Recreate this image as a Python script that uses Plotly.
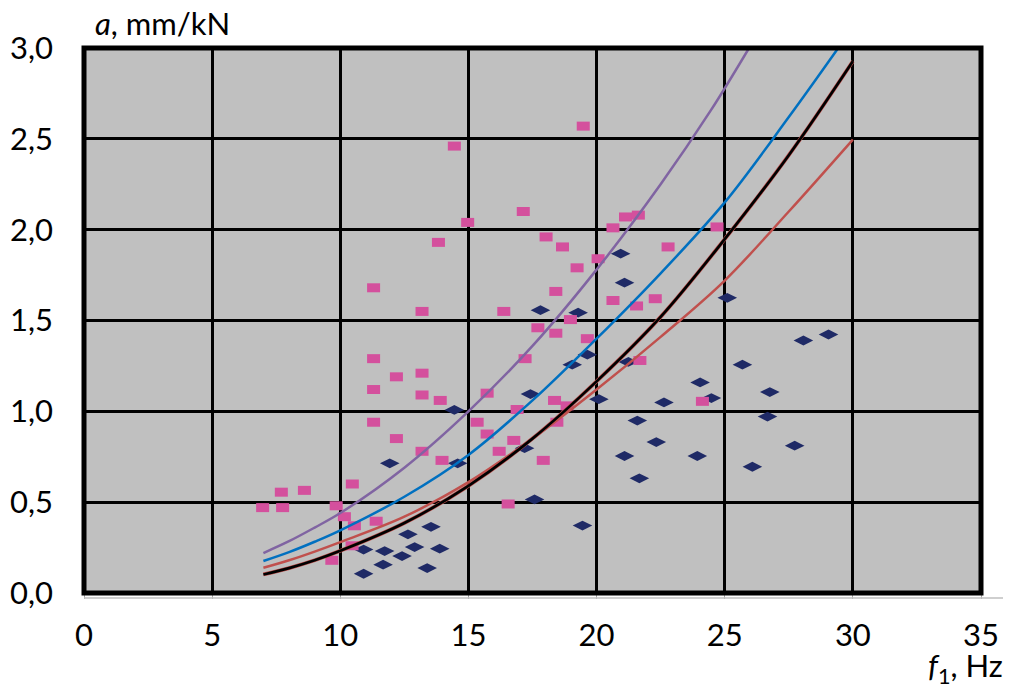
import plotly.graph_objects as go

# --- data ---
blue_x = [14.45, 11.93, 14.58, 13.54, 12.64, 10.91, 11.73, 12.90, 13.88, 12.41, 11.67, 13.39, 10.91,
          19.64, 19.05, 21.24, 24.04, 17.42, 20.09, 22.63, 21.59, 22.33, 17.19, 21.09, 23.93, 21.67,
          17.58, 19.45, 20.94, 21.09, 17.81, 19.28, 25.10, 29.05, 28.07, 25.69, 26.76, 24.48, 26.67,
          27.73, 26.08]
blue_y = [1.008, 0.714, 0.714, 0.364, 0.323, 0.239, 0.231, 0.253, 0.244, 0.203, 0.156, 0.137, 0.106,
          1.312, 1.257, 1.272, 1.159, 1.095, 1.067, 1.049, 0.949, 0.831, 0.797, 0.754, 0.754, 0.631,
          0.515, 0.371, 1.868, 1.708, 1.557, 1.543, 1.625, 1.423, 1.390, 1.257, 1.106, 1.073, 0.971,
          0.811, 0.695]

pink_x = [6.97, 7.70, 7.75, 8.60, 9.84, 9.67, 10.16, 10.47, 10.55, 10.46, 11.40, 11.30, 11.30, 11.30,
          11.30, 12.19, 12.19, 13.19, 13.19, 13.19, 13.19, 13.90, 13.97, 13.83, 14.45, 14.97, 15.34,
          15.73, 15.73, 16.20, 16.38, 16.55, 16.77, 16.90, 17.14, 17.21, 17.71, 17.92, 18.03, 18.36,
          18.41, 18.41, 18.45, 18.67, 18.85, 18.98, 19.24, 19.48, 19.64, 20.06, 20.64, 20.64, 21.13,
          21.56, 21.63, 21.69, 22.29, 22.79, 24.13, 24.70]
pink_y = [0.47, 0.555, 0.47, 0.565, 0.48, 0.18, 0.42, 0.60, 0.37, 0.26, 0.395, 1.68, 1.29, 1.12,
          0.94, 1.19, 0.85, 1.55, 1.21, 1.09, 0.78, 1.06, 0.73, 1.93, 2.46, 2.04, 0.94,
          1.10, 0.875, 0.78, 1.55, 0.49, 0.84, 1.01, 2.10, 1.29, 1.46, 0.73, 1.96, 1.06,
          1.66, 1.43, 0.94, 1.905, 1.03, 1.505, 1.79, 2.57, 1.40, 1.84, 2.01, 1.61, 2.07,
          1.58, 2.08, 1.28, 1.62, 1.905, 1.055, 2.015]

curve_x = [7, 8, 9, 10, 12.5, 15, 17.5, 20, 22.5, 25, 27.5, 30]
black_y = [0.102, 0.137, 0.18, 0.232, 0.385, 0.59, 0.85, 1.165, 1.52, 1.948, 2.41, 2.927]
red_y = [0.139, 0.18, 0.228, 0.28, 0.42, 0.61, 0.85, 1.12, 1.41, 1.72, 2.10, 2.496]
blue_cx = [7, 8, 9, 10, 12.5, 15, 17.5, 20, 22.5, 25, 27.5, 29.43]
blue_cy = [0.176, 0.225, 0.282, 0.345, 0.53, 0.76, 1.06, 1.40, 1.76, 2.15, 2.62, 3.0]
purple_x = [7, 8, 9, 10, 12.5, 15, 17.5, 20, 22.5, 24.45, 25.95]
purple_y = [0.22, 0.285, 0.36, 0.44, 0.69, 1.0, 1.36, 1.78, 2.25, 2.655, 3.0]

x_ticks = [0, 5, 10, 15, 20, 25, 30, 35]
y_ticks = [0.0, 0.5, 1.0, 1.5, 2.0, 2.5, 3.0]
y_labels = ["0,0", "0,5", "1,0", "1,5", "2,0", "2,5", "3,0"]

FONT = "Lato, 'Open Sans', sans-serif"

fig = go.Figure()
fig.add_trace(go.Scatter(x=blue_x, y=blue_y, mode="markers",
                         marker=dict(symbol="diamond-wide", size=14, color="#1F2A66",
                                     line=dict(width=0)), showlegend=False))
fig.add_trace(go.Scatter(x=pink_x, y=pink_y, mode="markers",
                         marker=dict(symbol="line-ew", size=9.3, color="#D4509D",
                                     line=dict(width=9, color="#D4509D")), showlegend=False))
fig.add_trace(go.Scatter(x=curve_x, y=red_y, mode="lines", line=dict(color="#C0504D", width=2.5, shape="spline"),
                         showlegend=False))
fig.add_trace(go.Scatter(x=curve_x, y=black_y, mode="lines", line=dict(color="#C0504D", width=3.8, shape="spline"),
                         showlegend=False))
fig.add_trace(go.Scatter(x=curve_x, y=black_y, mode="lines", line=dict(color="black", width=2.7, shape="spline"),
                         showlegend=False))
fig.add_trace(go.Scatter(x=blue_cx, y=blue_cy, mode="lines", line=dict(color="#0070C0", width=2.5, shape="spline"),
                         showlegend=False))
fig.add_trace(go.Scatter(x=purple_x, y=purple_y, mode="lines", line=dict(color="#8064A2", width=2.5, shape="spline"),
                         showlegend=False))

fig.update_layout(
    width=1003, height=680,
    margin=dict(l=76, r=30, t=40, b=95, autoexpand=False),
    paper_bgcolor="white", plot_bgcolor="#C0C0C0",
    font=dict(family=FONT, size=31, color="black"),
    xaxis=dict(range=[0, 35], tickvals=x_ticks, ticktext=[str(v) for v in x_ticks],
               showgrid=True, gridcolor="black", gridwidth=2.5, zeroline=False,
               ticks="outside", ticklen=5, tickcolor="#A6A6A6", tickwidth=1,
               ticklabelstandoff=10, showline=False, automargin=False),
    yaxis=dict(range=[0, 3], tickvals=y_ticks, ticktext=y_labels,
               showgrid=True, gridcolor="black", gridwidth=2.5, zeroline=False,
               ticks="", ticklabelstandoff=30, showline=False, automargin=False),
    shapes=[
        dict(type="line", xref="paper", yref="paper", x0=0, x1=1.0268, y0=-0.0092, y1=-0.0092,
             line=dict(color="#BFBFBF", width=1.5)),
        dict(type="line", xref="paper", yref="paper", x0=1.0268, x1=1.0268, y0=-0.0092, y1=0.886,
             line=dict(color="#BFBFBF", width=1.5)),
        dict(type="rect", xref="paper", yref="paper", x0=0, x1=1, y0=0, y1=1,
             line=dict(color="black", width=5), layer="above"),
    ],
    annotations=[
        dict(text="<i>a</i>, mm/kN", xref="paper", yref="paper", x=0.01, y=1.0, xanchor="left",
             yanchor="bottom", yshift=4, showarrow=False, font=dict(family=FONT, size=31)),
        dict(text="<i>f</i><sub>1</sub>, Hz", xref="paper", yref="paper", x=1.027, y=0, xanchor="right",
             yanchor="top", yshift=-51, showarrow=False, font=dict(family=FONT, size=31)),
    ],
)

fig.write_html("out.html")
